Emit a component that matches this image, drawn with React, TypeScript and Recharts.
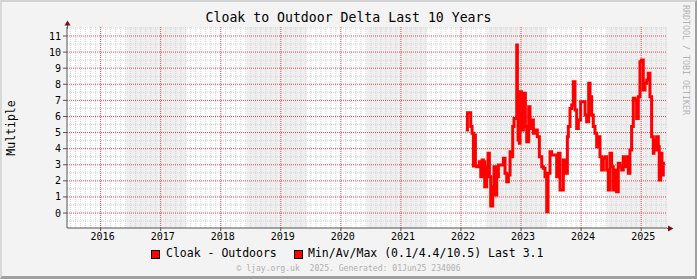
import React from "react";
import { LineChart, Line, XAxis, YAxis, ReferenceLine, ReferenceArea } from "recharts";

const title = "Cloak to Outdoor Delta Last 10 Years";
const yLabel = "Multiple";
const seriesName = "Cloak - Outdoors";
const statsText = "Min/Av/Max (0.1/4.4/10.5) Last 3.1";
const footer = "\u00a9 ljay.org.uk  2025. Generated: 01Jun25 234006";
const credit = "RRDTOOL / TOBI OETIKER";

const yearTicks = [2016, 2017, 2018, 2019, 2020, 2021, 2022, 2023, 2024, 2025];
const valueTicks = [0, 1, 2, 3, 4, 5, 6, 7, 8, 9, 10, 11];
const halfTicks = [-0.5, 0.5, 1.5, 2.5, 3.5, 4.5, 5.5, 6.5, 7.5, 8.5, 9.5, 10.5, 11.5];

// alternating yearly shading counted back from the end of the window
const shadeStart = [2016.43, 2018.43, 2020.43, 2022.43, 2024.43];
const shadeEnd = [2017.43, 2019.43, 2021.43, 2023.43, 2025.43];

const X_MIN = 2015.44;
const X_MAX = 2025.43;
const Y_MIN = -0.93;
const Y_MAX = 11.56;

// sample time (fractional year) and cloak - outdoors delta
const sampleTime = [
  2022.079, 2022.107, 2022.162, 2022.184, 2022.207, 2022.218, 2022.24, 2022.262, 2022.306, 2022.329,
  2022.351, 2022.373, 2022.395, 2022.428, 2022.451, 2022.473, 2022.495, 2022.528, 2022.55, 2022.573,
  2022.595, 2022.623, 2022.706, 2022.733, 2022.761, 2022.789, 2022.817, 2022.844, 2022.861, 2022.883,
  2022.916, 2022.928, 2022.939, 2022.95, 2022.972, 2022.983, 2023.005, 2023.039, 2023.072, 2023.094,
  2023.127, 2023.149, 2023.172, 2023.194, 2023.205, 2023.233, 2023.271, 2023.305, 2023.344, 2023.371,
  2023.399, 2023.427, 2023.449, 2023.482, 2023.51, 2023.538, 2023.593, 2023.621, 2023.649, 2023.704,
  2023.748, 2023.771, 2023.787, 2023.815, 2023.843, 2023.87, 2023.898, 2023.926, 2023.954, 2023.992,
  2024.065, 2024.092, 2024.126, 2024.148, 2024.176, 2024.203, 2024.231, 2024.259, 2024.286, 2024.314,
  2024.342, 2024.37, 2024.397, 2024.425, 2024.453, 2024.481, 2024.508, 2024.536, 2024.564, 2024.591,
  2024.619, 2024.647, 2024.675, 2024.702, 2024.73, 2024.758, 2024.786, 2024.813, 2024.841, 2024.869,
  2024.897, 2024.924, 2024.952, 2024.98, 2025.007, 2025.035, 2025.063, 2025.091, 2025.118, 2025.146,
  2025.174, 2025.202, 2025.213, 2025.229, 2025.257, 2025.285, 2025.301, 2025.324, 2025.346, 2025.368,
  2025.396,
];
const delta = [
  5.16, 6.23, 5.37, 4.95, 2.92, 4.85, 2.92, 2.88, 3.19, 2.26,
  3.29, 3.19, 1.64, 2.88, 3.71, 2.26, 0.44, 1.64, 2.88, 1.12,
  2.26, 2.98, 3.4, 2.47, 1.95, 2.36, 3.81, 3.5, 5.37, 5.88,
  5.88, 10.44, 6.61, 4.54, 4.33, 7.54, 5.16, 7.44, 5.37, 4.43,
  6.61, 5.26, 5.68, 5.78, 4.95, 5.16, 4.74, 3.5, 2.88, 2.78,
  2.26, 0.08, 2.47, 3.81, 3.6, 3.6, 2.26, 3.71, 1.43, 3.29,
  2.47, 4.74, 5.37, 6.5, 6.71, 8.16, 6.4, 5.26, 5.78, 6.92,
  6.09, 5.68, 8.06, 7.23, 6.09, 5.37, 4.95, 4.12, 4.74, 3.5,
  2.67, 3.4, 3.5, 2.67, 1.43, 3.71, 2.88, 1.43, 2.67, 1.33,
  3.09, 2.88, 2.67, 3.5, 2.88, 3.5, 2.47, 3.92, 5.37, 7.13,
  7.02, 5.88, 7.23, 9.4, 9.51, 7.64, 8.06, 8.27, 8.68, 7.23,
  4.74, 3.71, 4.54, 3.92, 4.74, 4.12, 2.05, 3.71, 2.36, 3.09,
  3.09,
];

const data = sampleTime.map((t, i) => ({ t, v: delta[i] }));

// monthly minor grid
const monthLines: number[] = [];
for (let y = 2015; y <= 2025; y++) {
  for (let m = 1; m < 12; m++) {
    const t = y + m / 12;
    if (t > X_MIN && t < X_MAX) monthLines.push(t);
  }
}

const mono = "'DejaVu Sans Mono', monospace";
const tickStyle = { fontFamily: mono, fontSize: 10, fill: "#000" };

export default function App() {
  return (
    <div style={{ position: "fixed", left: 0, top: 0, width: 697, height: 279, background: "#f3f3f3", overflow: "hidden" }}>
      <LineChart width={697} height={279} data={data} margin={{ top: 27, right: 30, bottom: 31, left: 0 }}>
        <XAxis
          type="number"
          dataKey="t"
          domain={[X_MIN, X_MAX]}
          ticks={yearTicks}
          allowDataOverflow
          tickFormatter={(v) => String(v)}
          tick={tickStyle}
          dx={2}
          tickSize={3}
          tickMargin={2}
          height={20}
          stroke="#555"
        />
        <YAxis
          type="number"
          domain={[Y_MIN, Y_MAX]}
          ticks={valueTicks}
          allowDataOverflow
          tick={tickStyle}
          tickSize={4}
          tickMargin={2}
          width={67}
          stroke="#555"
        />
        <ReferenceArea x1={X_MIN} x2={X_MAX} y1={Y_MIN} y2={Y_MAX} fill="#ffffff" fillOpacity={1} stroke="none" />
        {shadeStart.map((s, i) => (
          <ReferenceArea key={"s" + i} x1={s} x2={shadeEnd[i]} y1={Y_MIN} y2={Y_MAX} fill="#efefef" fillOpacity={1} stroke="none" />
        ))}
        {monthLines.map((m) => (
          <ReferenceLine key={"m" + m} x={m} stroke="#d4d4d4" strokeDasharray="1 1" />
        ))}
        {halfTicks.map((h) => (
          <ReferenceLine key={"h" + h} y={h} stroke="#d4d4d4" strokeDasharray="1 1" />
        ))}
        {valueTicks.map((v) => (
          <ReferenceLine key={"v" + v} y={v} stroke="#f04848" strokeDasharray="1 1" />
        ))}
        {yearTicks.map((y) => (
          <ReferenceLine key={"y" + y} x={y} stroke="#f04848" strokeDasharray="1 1" />
        ))}
        <Line
          type="stepAfter"
          dataKey="v"
          stroke="#ff0000"
          strokeWidth={3}
          dot={false}
          isAnimationActive={false}
        />
      </LineChart>

      {/* axis extensions and arrows */}
      <svg width={697} height={279} style={{ position: "absolute", left: 0, top: 0, pointerEvents: "none" }}>
        <line x1={67.5} y1={24} x2={67.5} y2={29} stroke="#555" />
        <line x1={667} y1={228.5} x2={670} y2={228.5} stroke="#555" />
        <polygon points="64.5,25.5 70.5,25.5 67.5,20.5" fill="#7a1010" />
        <polygon points="668,225.5 668,231.5 673.5,228.5" fill="#7a1010" />
      </svg>

      <div style={{ position: "absolute", left: 0, top: 10, width: 697, textAlign: "center", fontFamily: mono, fontSize: 13.2, color: "#000" }}>
        {title}
      </div>
      <div
        style={{
          position: "absolute", left: 11, top: 128, fontFamily: mono, fontSize: 11.5, color: "#000",
          transform: "translate(-50%, -50%) rotate(-90deg)", whiteSpace: "nowrap",
        }}
      >
        {yLabel}
      </div>
      <div
        style={{
          position: "absolute", left: 686, top: 60, fontFamily: mono, fontSize: 8.3, color: "#b4b4b4",
          transform: "translate(-50%, -50%) rotate(90deg)", whiteSpace: "nowrap",
        }}
      >
        {credit}
      </div>

      <div style={{ position: "absolute", left: 151, top: 250, width: 7, height: 7, background: "#ff0000", border: "1px solid #000" }} />
      <div style={{ position: "absolute", left: 166, top: 246, fontFamily: mono, fontSize: 11.5, color: "#000", whiteSpace: "pre" }}>
        {seriesName}
      </div>
      <div style={{ position: "absolute", left: 294, top: 250, width: 7, height: 7, background: "#ff0000", border: "1px solid #000" }} />
      <div style={{ position: "absolute", left: 308, top: 246, fontFamily: mono, fontSize: 11.5, color: "#000", whiteSpace: "pre" }}>
        {statsText}
      </div>
      <div style={{ position: "absolute", left: 0, top: 263, width: 697, textAlign: "center", fontFamily: mono, fontSize: 8.1, color: "#b0b0b0", whiteSpace: "pre" }}>
        {footer}
      </div>

      {/* 3d frame */}
      <div
        style={{
          position: "absolute", left: 0, top: 0, width: 697, height: 279, boxSizing: "border-box", pointerEvents: "none",
          borderTop: "2px solid #d2d2d2", borderLeft: "2px solid #d8d8d8", borderRight: "2px solid #a0a0a0", borderBottom: "3px solid #a0a0a0",
        }}
      />
    </div>
  );
}
